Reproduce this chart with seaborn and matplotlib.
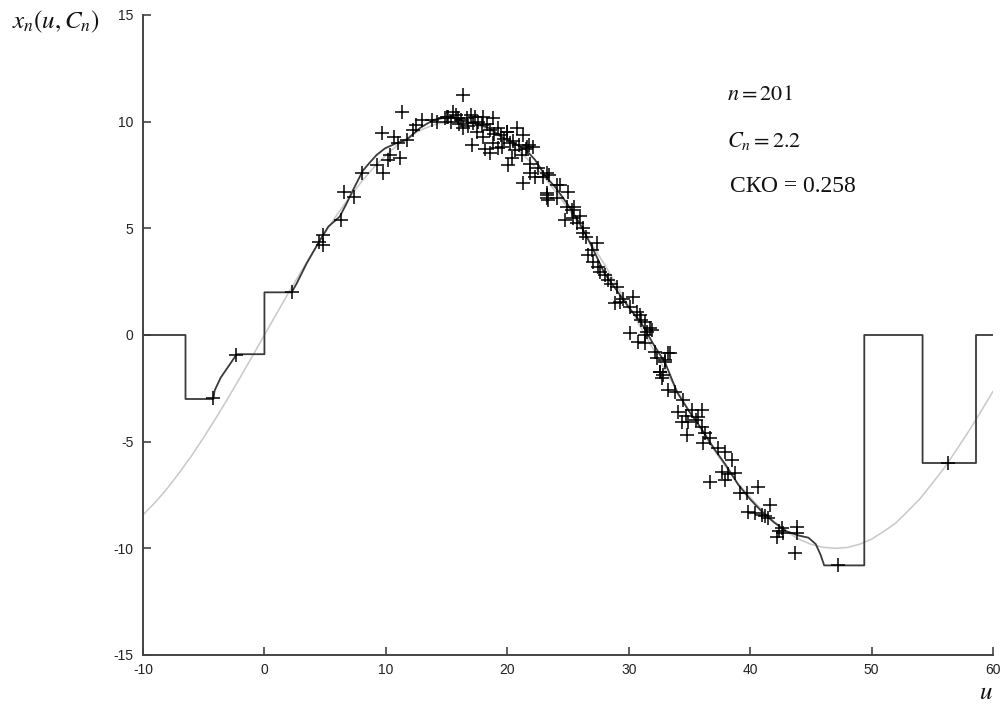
import numpy as np
import pandas as pd
import matplotlib
matplotlib.use("Agg")
import matplotlib.pyplot as plt
import seaborn as sns

# ---- data ----
# true curve (light gray)
true_u = list(range(-10, 61))
true_x = [-8.43, -7.85, -7.19, -6.45, -5.66, -4.80, -3.90, -2.96, -1.99, -1.00, 0.0,
          1.00, 1.99, 2.96, 3.90, 4.80, 5.66, 6.45, 7.19, 7.85, 8.43, 8.92, 9.33, 9.64,
          9.86, 9.98, 9.99, 9.91, 9.73, 9.45, 9.08, 8.61, 8.06, 7.42, 6.71, 5.94, 5.10,
          4.22, 3.31, 2.34, 1.35, 0.35, -0.65, -1.65, -2.62, -3.57, -4.49, -5.37, -6.18,
          -6.95, -7.61, -8.22, -8.76, -9.21, -9.57, -9.81, -9.95, -10.0, -9.96, -9.81,
          -9.57, -9.21, -8.81, -8.25, -7.67, -6.95, -6.22, -5.38, -4.51, -3.59, -2.64]

# estimate (dark line)
est_u = [-10, -6.5, -6.5, -4.2, -4.1, -3.6, -3.0, -2.4, -2.3, 0.0, 0.0, 2.24, 2.66, 3.48,
         4.58, 5.26, 6.2, 6.77, 7.3, 8.1, 8.7, 9.24, 9.93, 10.9, 11.7, 12.8, 13.9, 15.0,
         15.5, 16.5, 17.5, 18.5, 19.5, 20.5, 21.5, 22.3, 23.2, 24.0, 25.0, 26.0, 27.0,
         28.0, 29.0, 30.0, 31.0, 32.0, 33.0, 34.0, 35.0, 36.0, 37.0, 38.0, 39.0, 40.0,
         41.0, 42.0, 43.0, 44.0, 44.8, 45.4, 45.8, 46.1, 49.4, 49.4, 54.2, 54.2, 58.6,
         58.6, 60.0]
est_x = [0, 0, -3.0, -3.0, -2.6, -2.0, -1.5, -1.0, -0.9, -0.9, 2.0, 2.0, 2.42, 3.36,
         4.45, 5.08, 5.55, 6.17, 6.8, 7.7, 8.1, 8.44, 8.75, 9.0, 9.14, 9.7, 10.08, 10.2,
         10.2, 10.0, 9.9, 9.7, 9.3, 9.0, 8.7, 8.2, 7.4, 6.9, 6.1, 5.2, 4.1, 2.9, 2.1, 1.3,
         0.6, -0.4, -1.3, -2.7, -3.6, -4.4, -5.3, -6.1, -7.0, -7.7, -8.3, -8.8, -9.2, -9.4,
         -9.5, -9.8, -10.3, -10.8, -10.8, 0, 0, -6.0, -6.0, 0, 0]

# observations (+ markers)
obs_u = [-4.2, -2.34, 47.2, 56.3,
         2.24, 4.85, 4.52, 4.85, 6.28, 6.55, 7.38, 8.0, 9.24, 9.79, 10.2, 10.34, 11.16,
         9.66, 10.67, 11.03, 11.3, 11.7, 12.2, 12.5, 12.95, 15.0,
         16.33, 15.57, 15.15, 15.97, 14.87, 16.66, 17.34, 18.0, 18.85, 17.2, 16.38, 17.88,
         18.58, 19.95, 20.77, 21.3, 19.5, 18.0, 17.06, 18.85, 19.26, 18.58, 20.2, 20.6,
         21.6, 21.18, 20.35, 20.08, 21.87, 21.32, 22.55, 23.25, 23.25, 23.38, 24.06,
         15.4, 15.8, 16.2, 16.8, 17.0, 17.6, 18.3, 18.9, 19.2, 19.7, 20.0, 20.5, 21.0,
         21.5, 21.8, 22.1, 19.6, 18.2, 17.5, 16.0, 14.2, 13.8, 21.9, 22.3,
         23.46, 22.97, 24.34, 25.03, 23.25, 23.25, 24.07, 24.9, 25.3, 24.75, 25.44, 25.72,
         26.26, 26.26, 27.36, 26.68, 27.08, 27.5, 27.64, 28.05, 28.32, 29.0, 30.38, 29.28,
         28.87, 30.1, 30.66, 30.93, 31.34, 31.89, 30.1, 31.47, 30.79, 32.16, 33.26, 32.99,
         32.57, 32.85,
         31.75, 31.34, 31.34, 33.4, 32.3, 32.99, 32.58, 32.71, 33.26, 33.81, 34.5, 34.09,
         35.18, 36.0, 34.36, 34.91, 35.73, 34.77, 36.01, 36.69, 36.14, 37.38, 37.93, 38.48,
         37.66, 37.93, 38.75, 36.69, 39.16, 39.71, 40.67, 39.85, 40.4, 40.95, 41.5, 41.63,
         42.6, 42.19, 42.73, 43.83, 43.83, 43.7,
         25.5, 26.0, 26.5, 27.0, 28.5, 29.5, 31.0, 34.7, 35.5, 36.3, 38.2, 41.2, 42.4]
obs_x = [-2.95, -0.94, -10.8, -6.0,
         2.03, 4.69, 4.37, 4.22, 5.39, 6.72, 6.48, 7.58, 7.97, 7.58, 8.2, 8.44, 8.28,
         9.48, 9.30, 8.98, 10.47, 9.14, 9.61, 9.84, 10.08, 10.23,
         11.25, 10.47, 10.23, 10.16, 10.16, 10.16, 10.23, 10.23, 10.16, 9.92, 9.69, 9.84,
         9.61, 9.53, 9.69, 9.38, 9.38, 9.30, 8.91, 8.98, 8.75, 8.52, 8.98, 8.67,
         8.83, 8.44, 8.28, 7.97, 7.58, 7.11, 7.81, 7.58, 6.64, 6.33, 7.03,
         10.0, 10.3, 10.1, 9.8, 10.3, 10.0, 9.9, 9.4, 9.7, 9.2, 9.5, 9.1, 8.9,
         8.7, 8.9, 8.8, 8.8, 8.7, 9.5, 9.9, 10.0, 10.1, 8.0, 7.4,
         7.5, 7.42, 7.03, 6.72, 6.56, 6.41, 6.41, 6.02, 5.86, 5.39, 5.47, 5.24,
         5.0, 4.77, 4.3, 3.75, 3.44, 3.2, 2.97, 2.81, 2.58, 2.26, 1.8, 1.56,
         1.48, 1.33, 1.09, 0.94, 0.62, 0.23, 0.08, 0.16, -0.31, -0.78, -0.86, -1.17,
         -1.72, -1.88,
         0.31, 0.0, -0.39, -0.86, -1.09, -1.25, -1.72, -2.03, -2.58, -2.66, -3.05, -3.6,
         -3.52, -3.52, -4.06, -4.06, -3.83, -4.69, -4.3, -4.84, -5.08, -5.31, -5.47, -5.86,
         -6.41, -6.8, -6.48, -6.88, -7.42, -7.42, -7.11, -8.28, -8.36, -8.44, -8.59, -7.97,
         -9.06, -9.45, -9.3, -8.98, -9.3, -10.23,
         6.0, 5.6, 4.6, 4.0, 2.4, 1.7, 0.7, -3.8, -4.0, -4.6, -6.5, -8.5, -9.2]

x_ticks = [-10, 0, 10, 20, 30, 40, 50, 60]
y_ticks = [-15, -10, -5, 0, 5, 10, 15]
annotations = [r"$n = 201$", r"$C_n = 2.2$", "СКО = 0.258"]

# ---- plotting ----
sns.set_style("ticks")
plt.rcParams["font.family"] = ["Liberation Sans", "DejaVu Sans"]
plt.rcParams["mathtext.fontset"] = "stix"

fig = plt.figure(figsize=(10.05, 7.11), dpi=100)
ax = fig.add_axes([143 / 1005, 1 - 655 / 711, (993 - 143) / 1005, (655 - 15) / 711])

df_true = pd.DataFrame({"u": true_u, "x": true_x})
df_est = pd.DataFrame({"u": est_u, "x": est_x})
df_obs = pd.DataFrame({"u": obs_u, "x": obs_x})

sns.lineplot(data=df_true, x="u", y="x", ax=ax, color="#c8c8c8", linewidth=1.1,
             sort=False, estimator=None)
sns.lineplot(data=df_est, x="u", y="x", ax=ax, color="#3a3a3a", linewidth=1.3,
             sort=False, estimator=None)
sns.scatterplot(data=df_obs, x="u", y="x", ax=ax, marker="+", color="black", s=90,
                linewidth=1.1, zorder=5)

ax.set_xlim(-10, 60)
ax.set_ylim(-15, 15)
ax.set_xticks(x_ticks)
ax.set_yticks(y_ticks)
ax.set_xticklabels([str(t) for t in x_ticks])
ax.set_yticklabels([str(t) for t in y_ticks])
ax.set_xlabel("")
ax.set_ylabel("")
for side in ["top", "right"]:
    ax.spines[side].set_visible(False)
for side in ["left", "bottom"]:
    ax.spines[side].set_color("#444444")
    ax.spines[side].set_linewidth(1.4)
ax.tick_params(axis="both", direction="in", length=6, width=1.2, color="#444444",
               labelsize=10, labelcolor="#222222")
ax.tick_params(axis="x", pad=6)
ax.tick_params(axis="y", pad=7)

# axis labels
fig.text(12 / 1005, 1 - 22 / 711, r"$x_n(u,C_n)$", fontsize=18, ha="left", va="center",
         color="#111111")
fig.text(986 / 1005, 1 - 692 / 711, r"$u$", fontsize=18, ha="center", va="center",
         color="#111111")

# annotations
ax.text(0.687, 1 - (95 - 15) / 640, annotations[0], transform=ax.transAxes,
        fontsize=16, ha="left", va="center", color="#111111")
ax.text(0.687, 1 - (141 - 15) / 640, annotations[1], transform=ax.transAxes,
        fontsize=16, ha="left", va="center", color="#111111")
ax.text(0.690, 1 - (187 - 15) / 640, annotations[2], transform=ax.transAxes,
        fontsize=17, ha="left", va="center", color="#111111",
        family=["Liberation Serif", "DejaVu Serif"])

fig.savefig("out.png", dpi=100, facecolor="white")
